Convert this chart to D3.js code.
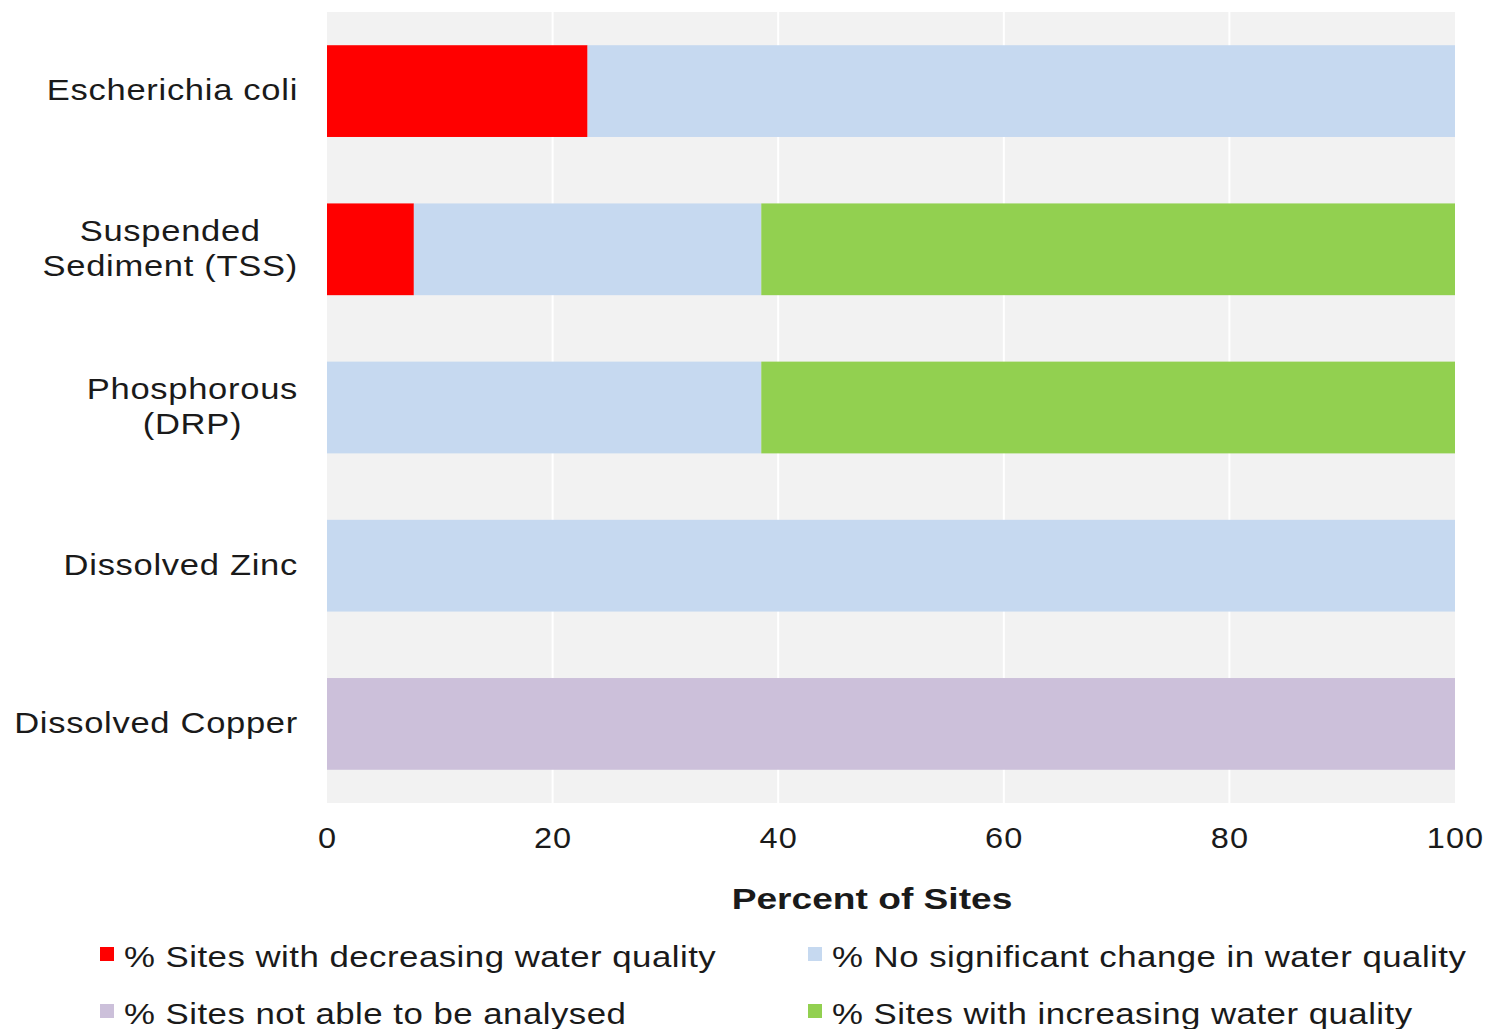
<!DOCTYPE html>
<html>
<head>
<meta charset="utf-8">
<script src="https://cdn.jsdelivr.net/npm/d3@7"></script>
<style>
  html, body { margin: 0; padding: 0; background: #fff; }
  svg text { font-family: "Liberation Sans", Arial, sans-serif; fill: #1a1a1a; }
</style>
</head>
<body>
<svg id="chart" width="1490" height="1029"></svg>
<script>
// Water quality trend categories (top to bottom)
const categories = [
  ["Escherichia coli"],
  ["Suspended", "Sediment (TSS)"],
  ["Phosphorous", "(DRP)"],
  ["Dissolved Zinc"],
  ["Dissolved Copper"]
];
const categoryKeys = ["Escherichia coli", "Suspended Sediment (TSS)", "Phosphorous (DRP)", "Dissolved Zinc", "Dissolved Copper"];

// Percent of sites in each trend class, per category
const decreasing   = [23.1, 7.7, 0, 0, 0];
const noChange     = [76.9, 30.8, 38.5, 100, 0];
const notAnalysed  = [0, 0, 0, 0, 100];
const increasing   = [0, 61.5, 61.5, 0, 0];

const seriesNames = [
  "% Sites with decreasing water quality",
  "% No significant change in water quality",
  "% Sites not able to be analysed",
  "% Sites with increasing water quality"
];
const seriesColors = ["#ff0000", "#c6d9f0", "#ccc0da", "#92d050"];
const xTicks = [0, 20, 40, 60, 80, 100];

const seriesValues = [decreasing, noChange, notAnalysed, increasing];
const rows = categoryKeys.map((k, i) => {
  const r = { key: k };
  seriesNames.forEach((s, j) => r[s] = seriesValues[j][i]);
  return r;
});
const stacked = d3.stack().keys(seriesNames)(rows);

const svg = d3.select("#chart");
const plotLeft = 327, plotRight = 1455, plotTop = 12, plotBottom = 803;
const FONT = 29;

// widen text horizontally: the labels use a broad, loosely spaced face
function widen(sel, factor) {
  sel.each(function () {
    const w = this.getComputedTextLength();
    d3.select(this).attr("textLength", w * factor).attr("lengthAdjust", "spacingAndGlyphs");
  });
  return sel;
}

const x = d3.scaleLinear().domain([0, 100]).range([plotLeft, plotRight]);
const y = d3.scaleBand().domain(categoryKeys).range([plotTop, plotBottom]).paddingInner(0.42).paddingOuter(0.21);

// plot background
svg.append("rect").attr("x", plotLeft).attr("y", plotTop)
  .attr("width", plotRight - plotLeft).attr("height", plotBottom - plotTop).attr("fill", "#f2f2f2");

// vertical gridlines
svg.append("g").selectAll("line").data(xTicks.slice(1, -1)).join("line")
  .attr("x1", d => x(d)).attr("x2", d => x(d))
  .attr("y1", plotTop).attr("y2", plotBottom)
  .attr("stroke", "#ffffff").attr("stroke-width", 2);

// stacked bars
svg.append("g").selectAll("g").data(stacked).join("g")
  .attr("fill", (d, i) => seriesColors[i])
  .selectAll("rect").data(d => d.filter(p => p[1] - p[0] > 0)).join("rect")
  .attr("x", d => x(d[0]))
  .attr("y", d => y(d.data.key))
  .attr("width", d => x(d[1]) - x(d[0]))
  .attr("height", y.bandwidth());

// x axis tick labels
const xAxis = d3.axisBottom(x).tickValues(xTicks).tickSize(0).tickPadding(0);
const gx = svg.append("g").attr("transform", `translate(0, ${plotBottom})`).call(xAxis);
gx.select(".domain").remove();
gx.attr("font-family", null).attr("font-size", null);
gx.selectAll("text")
  .attr("dy", null).attr("y", 45)
  .style("font-size", FONT + "px").style("letter-spacing", "1px");
widen(gx.selectAll("text"), 1.12);

// axis title
widen(svg.append("text").attr("x", 872).attr("y", 909)
  .attr("text-anchor", "middle").style("font-size", FONT + "px").style("font-weight", "bold")
  .text("Percent of Sites"), 1.28);

// category labels: lines centred on each other, block right-aligned at the plot edge
const labelRight = 298, lineGap = 35, stretch = 1.19;
categories.forEach((lines, i) => {
  const cy = y(categoryKeys[i]) + y.bandwidth() / 2;
  const g = svg.append("g");
  const texts = lines.map((ln, j) =>
    g.append("text").attr("x", 0)
      .attr("y", cy + (j - (lines.length - 1) / 2) * lineGap + 9)
      .attr("text-anchor", "middle")
      .style("font-size", FONT + "px").style("letter-spacing", "0.6px")
      .text(ln));
  texts.forEach(t => widen(t, stretch));
  const w = d3.max(texts, t => +t.attr("textLength"));
  g.attr("transform", `translate(${labelRight - w / 2}, 0)`);
});

// legend, two columns by two rows
const legendPos = [[100, 956], [808, 956], [100, 1013], [808, 1013]];
seriesNames.forEach((s, i) => {
  const [lx, ly] = legendPos[i];
  svg.append("rect").attr("x", lx).attr("y", ly - 9).attr("width", 14).attr("height", 14)
    .attr("fill", seriesColors[i]);
  widen(svg.append("text").attr("x", lx + 24).attr("y", ly + 11)
    .style("font-size", FONT + "px").style("letter-spacing", "0.4px")
    .text(s), 1.2);
});
</script>
</body>
</html>
